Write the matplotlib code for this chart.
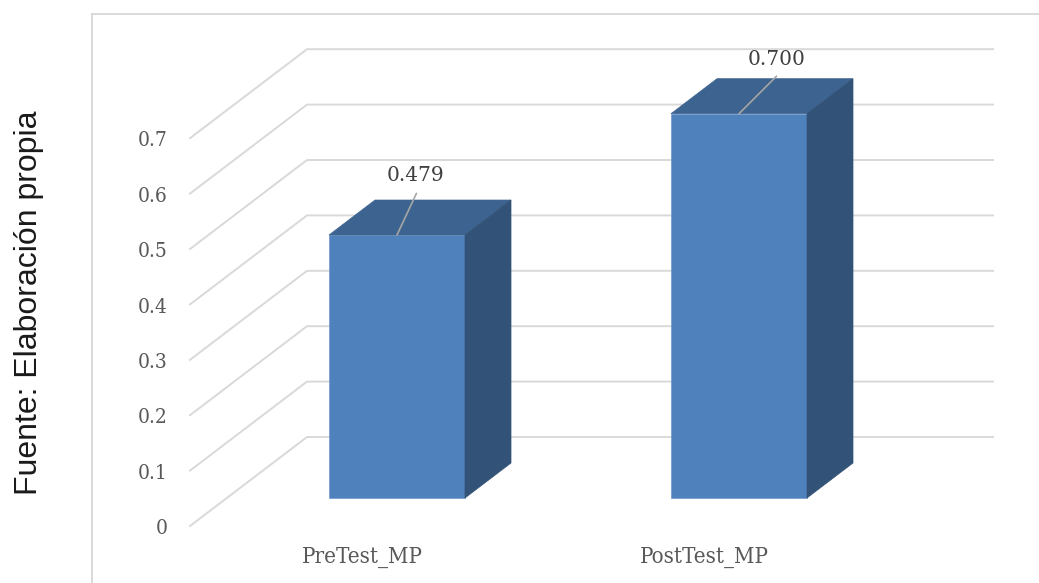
import matplotlib
matplotlib.use("Agg")
import matplotlib.pyplot as plt
from matplotlib.patches import Polygon
from matplotlib.lines import Line2D

categories = ["PreTest_MP", "PostTest_MP"]
values = [0.479, 0.700]
ticks = [0, 0.1, 0.2, 0.3, 0.4, 0.5, 0.6, 0.7]
tick_labels = ["0", "0.1", "0.2", "0.3", "0.4", "0.5", "0.6", "0.7"]

W, H = 1039, 583
CAT_PX = 342.0   # pixels between categories
VAL_PX = 554.0   # pixels per unit of value
X0_PX, Y0_PX = 397.0, 526.0  # where category 0 / value 0 land

fig = plt.figure(figsize=(W / 100, H / 100), dpi=100)
ax = fig.add_axes([0, 0, 1, 1])
ax.set_xlim(-X0_PX / CAT_PX, (W - X0_PX) / CAT_PX)
ax.set_ylim((Y0_PX - H) / VAL_PX, Y0_PX / VAL_PX)
ax.axis("off")

# fake 3D offsets, in data units
wall_dx, wall_dy = 117 / CAT_PX, 89 / VAL_PX
wall_left = -90 / CAT_PX - wall_dx
wall_right = 596 / CAT_PX
bar_w = 136 / CAT_PX
bar_dx, bar_dy = 46 / CAT_PX, 35 / VAL_PX
bar_base = 28 / VAL_PX
bar_scale = 0.991

# chart frame: only left and top edges are visible
fig.add_artist(Line2D([92 / W, 92 / W], [0, 1 - 14 / H], color="#d9d9d9", lw=1.4))
fig.add_artist(Line2D([92 / W, 1], [1 - 14 / H, 1 - 14 / H], color="#d9d9d9", lw=1.4))

# gridlines running along the floor and up the back wall
for t, lab in zip(ticks, tick_labels):
    ax.plot([wall_left, wall_left + wall_dx, wall_right],
            [t, t + wall_dy, t + wall_dy],
            color="#d9d9d9", lw=1.4, zorder=1, solid_joinstyle="miter")
    ax.annotate(lab, (wall_left, t), xytext=(-16, -2), textcoords="offset points",
                ha="right", va="center", fontsize=15, family="DejaVu Serif",
                color="#595959", stretch="condensed")

# bars built from three faces
for i, (cat, v) in enumerate(zip(categories, values)):
    l, r = i - bar_w / 2, i + bar_w / 2
    b, t = bar_base, bar_base + v * bar_scale
    ax.add_patch(Polygon([(l, b), (r, b), (r, t), (l, t)], fc="#4f81bd", ec="#6f97c8", lw=0.5, zorder=3))
    ax.add_patch(Polygon([(l, t), (r, t), (r + bar_dx, t + bar_dy), (l + bar_dx, t + bar_dy)],
                         fc="#3d6390", ec="#3d6390", lw=0.5, zorder=3))
    ax.add_patch(Polygon([(r, b), (r + bar_dx, b + bar_dy), (r + bar_dx, t + bar_dy), (r, t)],
                         fc="#325277", ec="#325277", lw=0.5, zorder=3))
    ax.text(i - 35 / CAT_PX, -31 / VAL_PX, cat, ha="center", va="center", fontsize=16,
            family="DejaVu Serif", color="#595959", stretch="condensed")

# value labels with leader lines
label_offsets = [(13, 43), (27, 39)]
leader_starts = [(14, 30), (27, 27)]
for i, (v, off, lead) in enumerate(zip(values, label_offsets, leader_starts)):
    y = bar_base + v * bar_scale
    ax.annotate(f"{v:.3f}", (i, y), xytext=off, textcoords="offset points",
                ha="center", va="center", fontsize=14.5, family="DejaVu Serif", color="#404040",
                zorder=5)
    ax.annotate("", (i, y), xytext=lead, textcoords="offset points",
                arrowprops=dict(arrowstyle="-", color="#a6a6a6", lw=1.2, shrinkA=0, shrinkB=0),
                zorder=5)

fig.text(29 / W, 1 - 303 / H, "Fuente: Elaboración propia", rotation=90, ha="center", va="center",
         fontsize=23, family="Liberation Sans", color="#1a1a1a")

fig.savefig("out.png", dpi=100)
